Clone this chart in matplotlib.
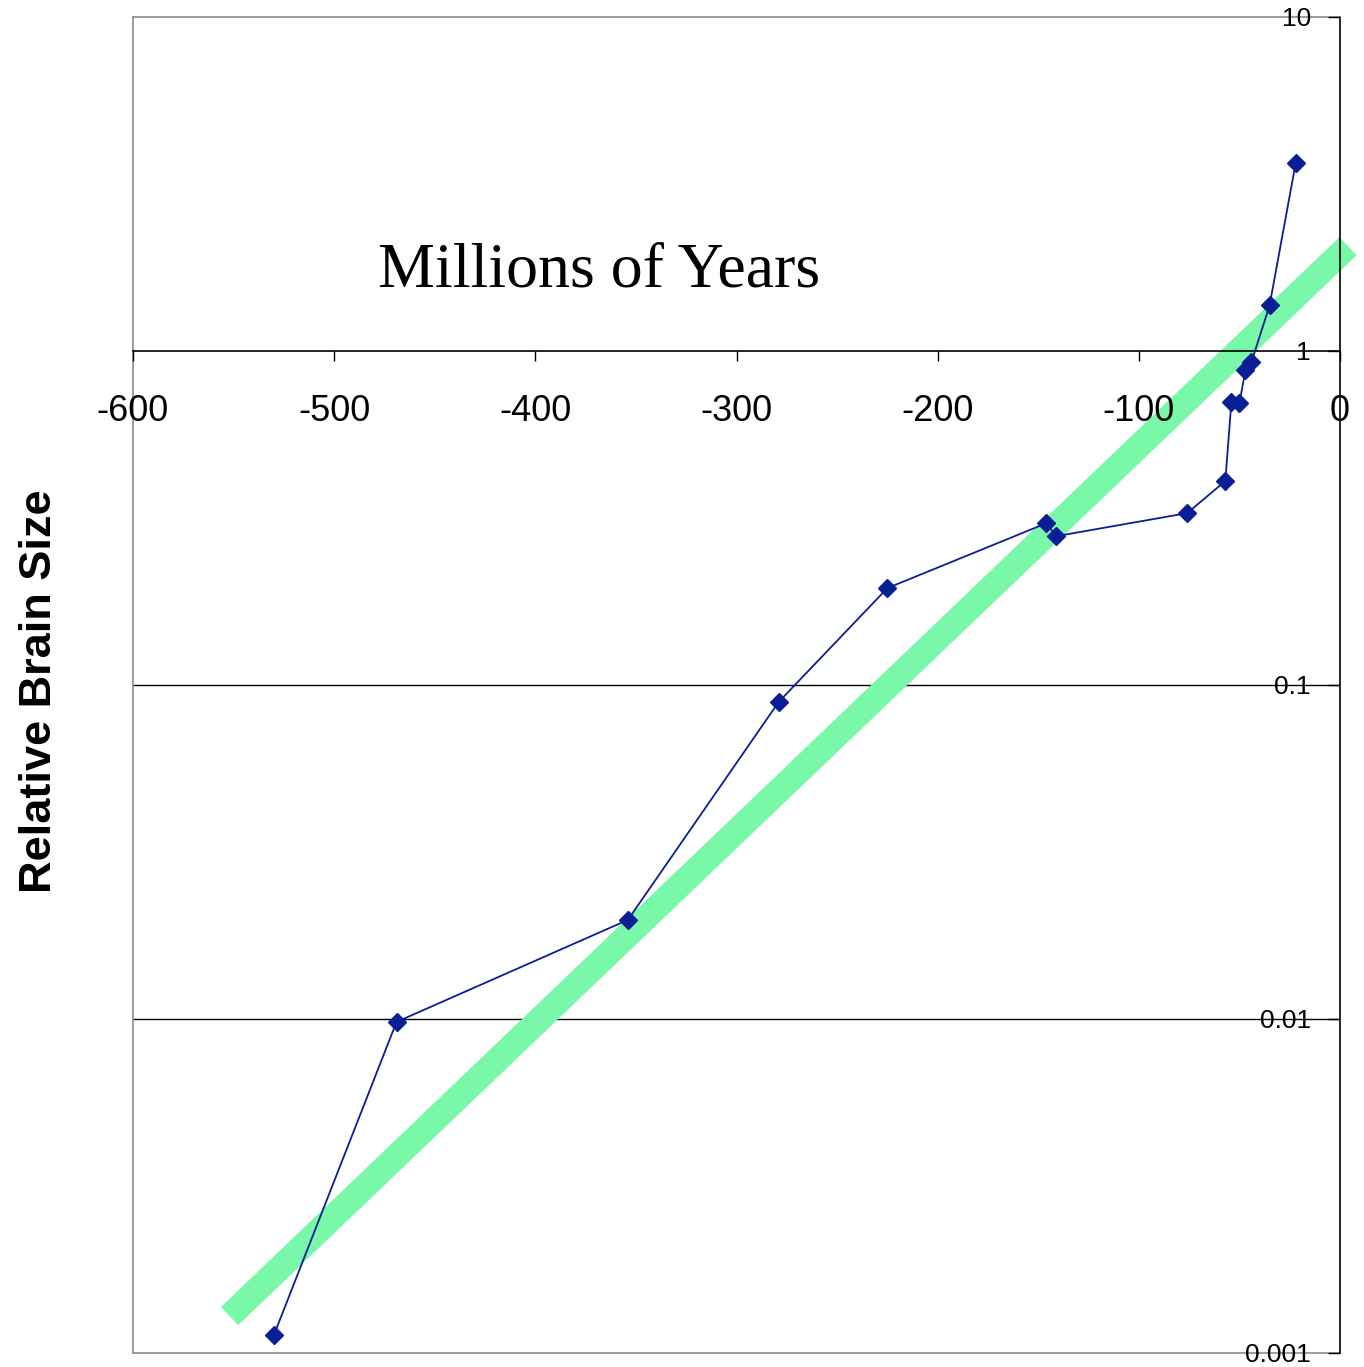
# relative brain size vs time, log scale

import numpy as np
import matplotlib.pyplot as plt

# data (millions of years, relative size)
years = [-530, -469, -354, -279, -225, -146, -141, -76, -57, -54, -50, -47, -44, -35, -22]
brain = [0.00113, 0.0098, 0.0198, 0.089, 0.195, 0.305, 0.279, 0.327, 0.408,
         0.703, 0.698, 0.877, 0.927, 1.37, 3.66]

# fitted trend (straight line on the log plot)
trend_x = [-552, 4]
trend_y = [0.00129, 2.06]

x_ticks = [-600, -500, -400, -300, -200, -100, 0]
y_ticks = [0.001, 0.01, 0.1, 1, 10]
y_labels = ['0.001', '0.01', '0.1', '1', '10']
grid_levels = [0.1, 0.01]

fig = plt.figure(figsize=(13.64, 13.67), dpi=100)
ax = fig.add_axes([133/1364, 1 - 1353/1367, 1207/1364, 1336/1367])

ax.set_yscale('log')
ax.set_xlim(-600, 0)
ax.set_ylim(0.001, 10)
ax.set_axisbelow(False)  # tick labels over the trend band

gray = '#8c8c8c'
ax.hlines(grid_levels, -600, 0, color='black', lw=1, zorder=1)
ax.axhline(0.001, color=gray, lw=1.2, clip_on=False, zorder=1)

ax.plot(trend_x, trend_y, color='#78f8a8', lw=18, solid_capstyle='butt',
        clip_on=False, zorder=2)
ax.plot(years, brain, color='#0a1e96', lw=1.3, marker='D', ms=9,
        mec='#0a1e96', mfc='#0a1e96', zorder=3)

# frame
ax.spines['left'].set_color(gray)
ax.spines['top'].set_color(gray)
ax.spines['right'].set_color('black')
ax.spines['bottom'].set_position(('data', 1))
ax.spines['bottom'].set_color('black')
for s in ax.spines.values():
    s.set_linewidth(1.2)

ax.set_xticks(x_ticks)
ax.set_xticklabels([str(v) for v in x_ticks])
ax.tick_params(axis='x', direction='out', length=7, width=1, pad=24,
               labelsize=26, colors='black')

ax.yaxis.tick_right()
ax.set_yticks(y_ticks)
ax.set_yticklabels(y_labels)
ax.yaxis.set_minor_locator(plt.NullLocator())
ax.tick_params(axis='y', direction='in', length=8.5, width=1, pad=-21,
               labelsize=19)
for lab in ax.get_yticklabels():
    lab.set_horizontalalignment('right')

for lab in ax.get_xticklabels() + ax.get_yticklabels():
    lab.set_fontfamily('Liberation Sans')

ax.text(0.386, 0.798, 'Millions of Years', transform=ax.transAxes,
        ha='center', va='baseline', fontsize=46, family='Liberation Serif')

fig.text(0.029, 1 - 691/1367, 'Relative Brain Size', rotation=90,
         ha='center', va='center', fontsize=32.5, fontweight='bold',
         family='Liberation Sans')

fig.savefig('out.png', dpi=100)
